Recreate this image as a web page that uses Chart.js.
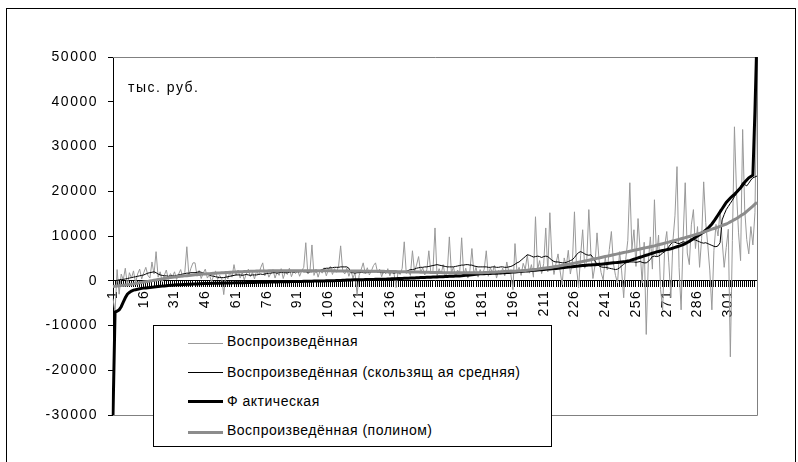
<!DOCTYPE html>
<html>
<head>
<meta charset="utf-8">
<script src="https://cdn.jsdelivr.net/npm/chart.js@4.4.1/dist/chart.umd.min.js"></script>
<style>
    body { margin: 0; background: #fff; }
    #wrap { position: relative; width: 798px; height: 462px; overflow: hidden; font-family: "Liberation Sans", Arial, sans-serif; }
    #frame { position: absolute; left: 6px; top: 8px; width: 790px; height: 470px; border: 1px solid #000; box-sizing: border-box; }
    #chart { position: absolute; left: 0; top: 0; }
    #unit { position: absolute; left: 128px; top: 79px; font-size: 14px; letter-spacing: 1.5px; color: #000; }
    #legend { position: absolute; left: 153px; top: 325px; width: 399px; height: 122px; background: #fff; border: 1px solid #000; box-sizing: border-box; }
    .item { position: absolute; left: 0; height: 20px; width: 100%; }
    .sample { position: absolute; left: 34px; width: 35px; }
    .label { position: absolute; left: 73px; top: 0; font-size: 14px; letter-spacing: 0.5px; white-space: nowrap; line-height: 20px; color: #000; }
</style>
</head>
<body>
<div id="wrap">
    <div id="frame"></div>
    <canvas id="chart" width="798" height="462"></canvas>
    <div id="unit">тыс. руб.</div>
    <div id="legend"></div>
</div>
<script>
// Data (values in thousands of rubles)
const categories = Array.from({length: 315}, (_, i) => String(i + 1));
const xTickLabels = ['1', '16', '31', '46', '61', '76', '91', '106', '121', '136', '151', '166', '181', '196', '211', '226', '241', '256', '271', '286', '301'];
const yMin = -30000, yMax = 50000, yStep = 10000;

const seriesNames = [
    'Воспроизведённая',
    'Воспроизведённая (скользящ ая средняя)',
    'Ф актическая',
    'Воспроизведённая (полином)'
];

const reproduced = [
    -4000, -7000, 2500, -3000, 1500, 200, 2800, -1000, 1800, 600, 2200, -500, 1500, 2600, 400,
    1800, 3000, 1200, 600, 4200, 1500, 6500, 800, 2000, -300, 1200, 2400, 300, 1600, 900,
    2000, 300, 1500, 2500, 800, 1800, 7600, 1200, 2800, 4000, 4000, 1000, 2300, 500, 1700,
    2600, 600, 1400, -200, 1000, 2200, 300, 1200, 600, -3100, 1500, 400, 2000, 800, 3600,
    1200, 2400, 600, 1800, 200, 1500, 2600, 900, 1900, 400, 2200, 1300, 2900, 4000, 1100,
    2300, 800, 1700, 2500, 600, 1900, 1200, 2700, 500, 2000, 1400, 2800, 900, 2100, 1600,
    2400, 1000, 2200, 3000, 8500, 1500, 2000, 8000, 1200, 2600, 800, 2300, 1700, 2900, 1100,
    2500, 3200, 1400, 2700, 1900, 3300, 7800, 2200, 1500, 2800, 1000, 2400, 600, 1800, -3100,
    1200, 2500, 4000, 1600, 2900, 1300, 2200, 3400, 4000, 1800, 2600, 900, 2300, 1500, 2700,
    1100, 2400, 1700, -1500, 2000, 1400, 2800, 8700, 1600, 2300, 1200, 6700, 2100, 3500, 5400,
    1800, 2900, 1300, 2400, 6700, 1600, 2200, 11800, 1000, 2700, 1500, 3600, 800, 2100, 9800,
    1700, 3100, 900, 2400, 1600, 9600, 1200, 2800, 600, 2200, 7200, 1400, 3000, 800, 2500,
    1300, 2600, 6700, 1000, 2900, 1800, 3400, 600, 2300, 1500, 2800, 1100, 4200, 2000, 1400,
    -2000, 8300, 1800, 3000, 1200, 3900, 2500, 5800, 1700, 3600, 800, 14300, 2400, 4500, 1600,
    3800, 11800, 2000, 15200, 5000, 1400, 3900, 6000, 2200, -900, 5100, 3200, 6800, 1500, 4200,
    15400, 3000, -1500, 5600, 11400, 2800, 4500, 15900, 6200, 500, 3400, 10700, 4600, 1800, 200,
    5200, 2400, 7000, 11000, 3800, 1200, -500, 6500, 2200, -3800, 4800, 9000, 21900, 7000, 11400,
    3200, 13900, 6800, -500, 8600, -12000, 4200, 9800, 2600, 18100, 5400, 10200, -2000, -6500, 7800,
    11000, 4000, -3800, 8900, 14500, 25500, 3000, -6500, 9800, 21900, 6200, 3600, 12500, 15900, 7200,
    12100, 3000, 9400, 22100, 13000, 8000, 2200, -6500, 6800, 12600, 10000, 15900, 9000, 3000, 7400,
    11500, -17000, 9000, 34400, 20000, 10700, 4500, 33800, 16000, 9200, 6000, 12100, 8000, 15200, 47000
];

const movingAvg = [
    null, 0, 100, 200, 300, 300, 400, 500, 600, 700, 800, 900, 1000, 1100, 1200,
    1300, 1500, 1700, 1800, 1900, 2000, 1800, 1500, 1300, 1200, 1100, 1100, 1000, 1100, 1100,
    1100, 1200, 1300, 1400, 1500, 1600, 1700, 1700, 1800, 1800, 1800, 1900, 2000, 1900, 1700,
    1600, 1500, 1300, 1100, 1000, 900, 800, 700, 700, 700, 800, 900, 1000, 1100, 1200,
    1300, 1300, 1300, 1200, 1300, 1400, 1300, 1200, 1300, 1300, 1300, 1400, 1500, 1400, 1500,
    1600, 1700, 1700, 1800, 1800, 1700, 1800, 1900, 1800, 1800, 1800, 1900, 2000, 1900, 2000,
    2000, 2000, 2100, 2000, 2000, 1900, 2000, 2000, 2100, 2000, 2100, 2300, 2500, 2700, 2800,
    2800, 2900, 2900, 3000, 3000, 3000, 3100, 3100, 3100, 3100, 2800, 1800, 1800, 1700, 1800,
    1800, 1900, 1800, 1800, 1800, 1900, 2000, 2000, 2000, 2000, 1900, 1800, 1800, 1900, 1800,
    1800, 1800, 1700, 1800, 1800, 1800, 1900, 2000, 2100, 2300, 2500, 2500, 2600, 2800, 2900,
    3000, 3000, 3100, 3100, 3200, 3300, 3400, 3500, 3600, 3500, 3400, 3300, 3200, 3100, 3100,
    3100, 3100, 3200, 3300, 3400, 3500, 3500, 3600, 3600, 3500, 3500, 3300, 3200, 3100, 3100,
    3100, 3100, 3100, 3000, 3000, 3100, 3100, 3000, 3000, 3100, 3100, 3000, 3000, 3100, 3200,
    3400, 3700, 4000, 4200, 4600, 5000, 5400, 5800, 5700, 5500, 5300, 5400, 5500, 5400, 5200,
    5400, 5500, 5400, 5000, 4600, 4300, 4200, 4200, 4100, 4000, 4000, 4100, 4300, 4500, 4700,
    5200, 5800, 6300, 6500, 6300, 6000, 5800, 5700, 5800, 5200, 4400, 3700, 3300, 3100, 3000,
    3000, 2900, 2800, 2700, 2600, 2500, 2600, 2900, 3300, 3700, 4000, 4100, 4200, 4200, 4200,
    4100, 4200, 4300, 4100, 4000, 4000, 4300, 4800, 5400, 5500, 5400, 5500, 5800, 6200, 6500,
    7000, 7600, 8200, 8700, 8600, 8400, 8300, 8500, 8700, 8600, 8500, 8700, 9000, 9200, 9100,
    8900, 8700, 8500, 8400, 8500, 8300, 8100, 7900, 7700, 7600, 7800, 8500, 13600, 14800, 15900,
    16600, 17300, 18000, 18800, 19500, 20300, 21000, 21900, 21500, 21200, 21800, 22500, 23000, 23200, 23400
];

const actual = [
    -30000, -7000, -6800, -6500, -5800, -4800, -3800, -3000, -2600, -2300, -2100, -2000, -1900, -1800, -1700,
    -1650, -1600, -1550, -1500, -1450, -1400, -1350, -1300, -1250, -1200, -1150, -1100, -1050, -1000, -980,
    -950, -920, -900, -870, -850, -820, -800, -780, -760, -740, -720, -700, -680, -660, -640,
    -620, -600, -590, -580, -570, -560, -550, -540, -530, -520, -510, -500, -490, -480, -470,
    -460, -450, -440, -430, -420, -410, -400, -390, -380, -370, -360, -350, -340, -330, -320,
    -310, -300, -290, -280, -270, -260, -250, -240, -230, -220, -210, -200, -190, -180, -170,
    -160, -150, -140, -130, -120, -110, -100, -90, -80, -70, -60, -50, -40, -30, -20,
    -10, 0, 10, 20, 40, 60, 80, 100, 120, 140, 160, 180, 200, 210, 220,
    230, 240, 250, 260, 270, 280, 290, 300, 310, 320, 330, 340, 350, 360, 380,
    400, 420, 440, 460, 480, 500, 520, 540, 560, 580, 600, 620, 640, 660, 680,
    700, 720, 740, 760, 780, 800, 820, 840, 860, 880, 900, 920, 940, 960, 980,
    1000, 1020, 1040, 1060, 1080, 1100, 1150, 1200, 1250, 1300, 1350, 1400, 1450, 1500, 1550,
    1560, 1580, 1600, 1620, 1640, 1660, 1680, 1700, 1720, 1750, 1780, 1810, 1840, 1870, 1900,
    1930, 1960, 2000, 2040, 2080, 2120, 2160, 2200, 2240, 2280, 2320, 2360, 2400, 2440, 2480,
    2520, 2560, 2600, 2640, 2680, 2720, 2760, 2800, 2850, 2900, 2950, 3000, 3050, 3100, 3150,
    3200, 3250, 3300, 3350, 3400, 3430, 3460, 3500, 3530, 3560, 3600, 3630, 3660, 3700, 3750,
    3800, 3850, 3900, 3950, 4000, 4050, 4100, 4150, 4200, 4250, 4300, 4400, 4500, 4650, 4800,
    4950, 5100, 5250, 5400, 5550, 5700, 5850, 6000, 6150, 6300, 6450, 6550, 6650, 6750, 6850,
    6950, 7050, 7150, 7300, 7450, 7600, 7750, 7900, 8100, 8300, 8550, 8800, 9100, 9400, 9700,
    10000, 10300, 10600, 10900, 11300, 11700, 12200, 12700, 13300, 14000, 14700, 15400, 16100, 16800, 17500,
    18000, 18500, 18900, 19300, 19800, 20300, 20800, 21400, 22000, 22500, 23000, 23300, 23600, 38000, 55000
];

const polynom = [
    -1300, -1240, -1180, -1120, -1060, -1000, -940, -880, -820, -760, -700, -620, -540, -460, -380,
    -300, -220, -140, -60, 20, 100, 180, 260, 340, 420, 500, 580, 660, 720, 780,
    840, 890, 940, 990, 1040, 1090, 1140, 1190, 1240, 1290, 1340, 1380, 1420, 1460, 1500,
    1530, 1560, 1590, 1620, 1650, 1680, 1710, 1740, 1770, 1800, 1830, 1860, 1890, 1920, 1950,
    1970, 1990, 2010, 2030, 2050, 2070, 2090, 2110, 2130, 2150, 2160, 2170, 2180, 2190, 2200,
    2200, 2210, 2210, 2220, 2220, 2220, 2230, 2230, 2230, 2230, 2230, 2230, 2230, 2230, 2230,
    2230, 2230, 2230, 2230, 2230, 2230, 2230, 2230, 2220, 2220, 2220, 2220, 2220, 2220, 2220,
    2210, 2210, 2210, 2200, 2200, 2200, 2200, 2190, 2190, 2190, 2180, 2180, 2180, 2170, 2170,
    2160, 2160, 2150, 2150, 2140, 2140, 2130, 2130, 2120, 2120, 2110, 2100, 2100, 2090, 2080,
    2070, 2060, 2050, 2040, 2030, 2020, 2010, 2000, 1990, 1980, 1970, 1960, 1950, 1940, 1930,
    1920, 1910, 1900, 1890, 1880, 1870, 1860, 1850, 1840, 1830, 1820, 1810, 1800, 1790, 1780,
    1780, 1770, 1770, 1770, 1760, 1760, 1760, 1760, 1760, 1760, 1770, 1770, 1780, 1790, 1800,
    1810, 1820, 1840, 1860, 1880, 1900, 1920, 1940, 1970, 2000, 2030, 2060, 2100, 2140, 2180,
    2100, 2130, 2160, 2190, 2220, 2260, 2300, 2340, 2390, 2440, 2490, 2540, 2600, 2660, 2720,
    2780, 2840, 2900, 2970, 3040, 3110, 3180, 3260, 3340, 3420, 3500, 3580, 3670, 3760, 3850,
    3940, 4030, 4120, 4210, 4300, 4400, 4500, 4600, 4700, 4800, 4900, 5000, 5100, 5200, 5300,
    5400, 5500, 5600, 5700, 5800, 5900, 6000, 6100, 6200, 6300, 6400, 6500, 6600, 6700, 6800,
    6900, 7000, 7100, 7200, 7300, 7400, 7500, 7600, 7700, 7800, 7920, 8040, 8160, 8280, 8400,
    8520, 8640, 8760, 8880, 9000, 9120, 9250, 9380, 9510, 9640, 9770, 9900, 10040, 10180, 10320,
    10460, 10600, 10750, 10900, 11050, 11200, 11360, 11520, 11680, 11840, 12000, 12170, 12340, 12510, 12680,
    12900, 13150, 13400, 13650, 13900, 14200, 14500, 14800, 15100, 15500, 15900, 16300, 16700, 17100, 17500
];

// gray frame round the plot area (left side is the black value axis)
const plotFrame = {
    id: 'plotFrame',
    beforeDatasetsDraw(chart) {
        const {ctx, chartArea: a} = chart;
        ctx.save();
        ctx.strokeStyle = '#808080';
        ctx.lineWidth = 1;
        ctx.beginPath();
        ctx.moveTo(a.left, a.top + 0.5);
        ctx.lineTo(a.right + 0.5, a.top + 0.5);
        ctx.lineTo(a.right + 0.5, a.bottom + 0.5);
        ctx.lineTo(a.left, a.bottom + 0.5);
        ctx.stroke();
        ctx.restore();
    }
};

// Excel-like wide tracking on axis labels
const tracking = {
    id: 'tracking',
    beforeDraw(chart) {
        chart.ctx.letterSpacing = '1.5px';
    }
};

const datasets = [
    {label: seriesNames[0], data: reproduced, borderColor: '#999999', borderWidth: 1, order: 3},
    {label: seriesNames[1], data: movingAvg, borderColor: '#000000', borderWidth: 1, order: 2},
    {label: seriesNames[2], data: actual, borderColor: '#000000', borderWidth: 3, order: 1},
    {label: seriesNames[3], data: polynom, borderColor: '#8c8c8c', borderWidth: 3, order: 0}
];
datasets.forEach(function(ds) {
    ds.pointRadius = 0;
    ds.tension = 0;
    ds.fill = false;
});

new Chart(document.getElementById('chart'), {
    type: 'line',
    data: {
        labels: categories,
        datasets: datasets
    },
    options: {
        responsive: false,
        animation: false,
        devicePixelRatio: 1,
        layout: {
            padding: {left: 10, top: 57, right: 41, bottom: 47}
        },
        plugins: {
            legend: {display: false},
            tooltip: {enabled: false}
        },
        scales: {
            x: {
                position: {y: 0},
                offset: false,
                border: {color: '#000', width: 1},
                grid: {
                    drawOnChartArea: false,
                    drawTicks: true,
                    tickLength: 6,
                    color: '#000'
                },
                ticks: {
                    autoSkip: false,
                    maxRotation: 90,
                    minRotation: 90,
                    padding: 3,
                    color: '#000',
                    font: {family: '"Liberation Sans", Arial, sans-serif', size: 14},
                    callback: function(value, index) {
                        const lbl = categories[index];
                        return xTickLabels.includes(lbl) ? lbl : '';
                    }
                }
            },
            y: {
                min: yMin,
                max: yMax,
                border: {color: '#000', width: 1},
                grid: {
                    drawOnChartArea: false,
                    drawTicks: true,
                    tickLength: 5,
                    color: '#000'
                },
                ticks: {
                    stepSize: yStep,
                    padding: 10,
                    color: '#000',
                    font: {family: '"Liberation Sans", Arial, sans-serif', size: 14},
                    callback: function(value) {
                        return String(value);
                    }
                },
                afterFit: function(scale) {
                    scale.width = 103;
                }
            }
        }
    },
    plugins: [plotFrame, tracking]
});

// HTML legend, rows placed like the Excel legend box
const legendRows = [5, 36, 65, 94];
const legend = document.getElementById('legend');
datasets.forEach(function(ds, i) {
    const item = document.createElement('div');
    item.className = 'item';
    item.style.top = legendRows[i] + 'px';
    const sample = document.createElement('div');
    sample.className = 'sample';
    sample.style.top = (10 - Math.floor(ds.borderWidth / 2) + (i === 0 || i === 3 ? 2 : 0)) + 'px';
    sample.style.height = ds.borderWidth + 'px';
    sample.style.background = ds.borderColor;
    const text = document.createElement('span');
    text.className = 'label';
    text.textContent = ds.label;
    item.appendChild(sample);
    item.appendChild(text);
    legend.appendChild(item);
});
</script>
</body>
</html>
